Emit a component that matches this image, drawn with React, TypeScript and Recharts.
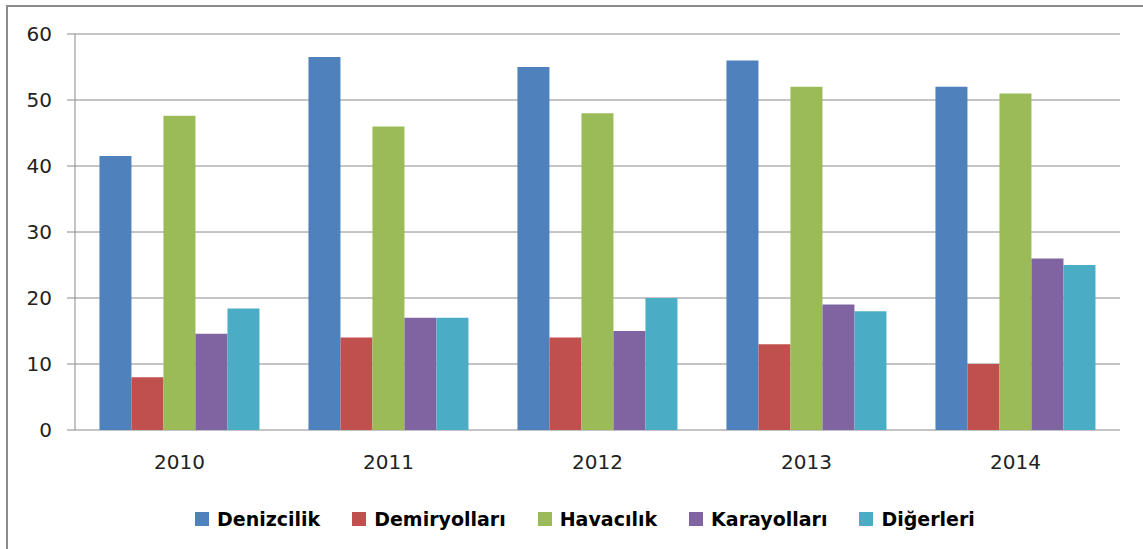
import React from "react";
import { BarChart, Bar, XAxis, YAxis, CartesianGrid } from "recharts";

const categories = ["2010", "2011", "2012", "2013", "2014"];
const seriesNames = ["Denizcilik", "Demiryolları", "Havacılık", "Karayolları", "Diğerleri"];
const seriesColors = ["#4F81BD", "#C0504D", "#9BBB59", "#8064A2", "#4BACC6"];
const denizcilik = [41.5, 56.5, 55, 56, 52];
const demiryollari = [8, 14, 14, 13, 10];
const havacilik = [47.6, 46, 48, 52, 51];
const karayollari = [14.6, 17, 15, 19, 26];
const digerleri = [18.4, 17, 20, 18, 25];
const yTicks = [0, 10, 20, 30, 40, 50, 60];
const edgeTicks = [0, 1, 2, 3, 4, 5];

const seriesValues = [denizcilik, demiryollari, havacilik, karayollari, digerleri];
const keys = ["s0", "s1", "s2", "s3", "s4"];

const data = categories.map((c, i) => {
  const row: Record<string, string | number> = { year: c, pos: i + 0.5 };
  seriesValues.forEach((vals, k) => {
    row[keys[k]] = vals[i];
  });
  return row;
});

const GRID = "#8A8A8A";
const FONT = "'DejaVu Sans', Verdana, sans-serif";

export default function App() {
  return (
    <div
      style={{
        position: "fixed",
        left: 6,
        top: 5,
        width: 1137,
        height: 544,
        borderTop: "2px solid #8C8C8C",
        borderLeft: "2px solid #8C8C8C",
        background: "#fff",
        boxSizing: "border-box",
        overflow: "hidden",
      }}
    >
      <BarChart
        width={1135}
        height={480}
        data={data}
        margin={{ top: 27, right: 23, left: 7, bottom: 17 }}
        barCategoryGap="11.7%"
        barGap={0}
      >
        <CartesianGrid vertical={false} stroke={GRID} strokeWidth={1} />
        <XAxis
          xAxisId="edge"
          type="number"
          dataKey="pos"
          domain={[0, 5]}
          ticks={edgeTicks}
          tick={false}
          tickSize={8}
          height={0}
          axisLine={{ stroke: GRID }}
          tickLine={{ stroke: GRID }}
          allowDataOverflow
        />
        <XAxis
          dataKey="year"
          height={40}
          tickLine={false}
          axisLine={false}
          tickSize={8}
          tickMargin={17}
          tick={{ fill: "#222", fontSize: 20, fontFamily: FONT }}
        />
        <YAxis
          domain={[0, 60]}
          ticks={yTicks}
          width={60}
          tickSize={8}
          tickMargin={15}
          axisLine={{ stroke: GRID }}
          tickLine={{ stroke: GRID }}
          tick={{ fill: "#222", fontSize: 20, fontFamily: FONT }}
        />
        {keys.map((k, i) => (
          <Bar key={k} dataKey={k} name={seriesNames[i]} fill={seriesColors[i]} isAnimationActive={false} />
        ))}
      </BarChart>
      <div
        style={{
          position: "absolute",
          left: 187,
          top: 501,
          display: "flex",
          alignItems: "center",
          fontFamily: FONT,
          fontWeight: "bold",
          fontSize: 19,
          color: "#000",
          whiteSpace: "nowrap",
        }}
      >
        {seriesNames.map((n, i) => (
          <div key={n} style={{ display: "flex", alignItems: "center", marginRight: 32 }}>
            <span
              style={{
                display: "inline-block",
                width: 14,
                height: 14,
                background: seriesColors[i],
                marginRight: 8,
              }}
            />
            <span>{n}</span>
          </div>
        ))}
      </div>
    </div>
  );
}
